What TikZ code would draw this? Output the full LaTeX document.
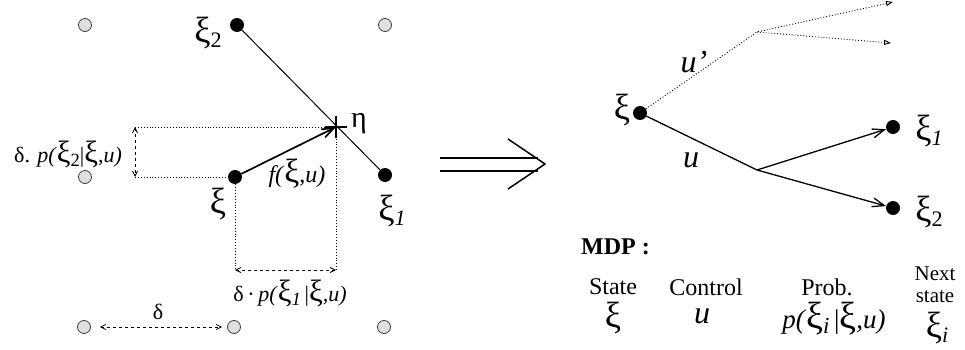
\documentclass[tikz,border=0pt]{standalone}
\usepackage{fontspec}
\setmainfont{Liberation Serif}
\usetikzlibrary{arrows.meta,positioning}
\tikzstyle{grid-pt} = [circle, draw=black!75, fill=black!12, line width=0.8pt,
    inner sep=0pt, minimum size=13pt]
\tikzstyle{state-pt} = [circle, fill=black, inner sep=0pt, minimum size=14pt]
\tikzstyle{lbl} = [font=\fontsize{24}{26}\selectfont, inner sep=1pt]
\tikzstyle{var-lbl} = [font=\fontsize{32}{34}\selectfont, inner sep=1pt]
\tikzstyle{xi-lbl} = [font=\fontsize{26}{28}\selectfont, inner sep=1pt]
\tikzstyle{small-lbl} = [font=\fontsize{22}{24}\selectfont, inner sep=1pt]
\tikzstyle{guide} = [dotted, line width=0.9pt]
\tikzstyle{measure} = [dashed, line width=0.8pt,
    {Straight Barb[length=5pt,width=5pt]}-{Straight Barb[length=5pt,width=5pt]}]
\tikzstyle{move} = [line width=1.3pt, -{Straight Barb[length=12pt,width=9pt]}]
\newcommand{\sxi}{\scalebox{1.4}{ξ}}
\newcommand{\sub}[1]{\raisebox{-0.4ex}{\scalebox{0.85}{#1}}}

\begin{document}
\begin{tikzpicture}[x=1pt,y=-1pt]
\useasboundingbox (0,0) rectangle (965,350);
% grid of the discretisation
\node [grid-pt] (g11) at (85,25) {};
\node [grid-pt] (g13) at (385,25) {};
\node [grid-pt] (g21) at (85,177) {};
\node [grid-pt] (g31) at (84,327) {};
\node [grid-pt] (g32) at (234,327) {};
\node [grid-pt] (g33) at (384,327) {};
\node [state-pt] (xi2) at (237,25) {};
\node [state-pt] (xi) at (235,177) {};
\node [state-pt] (xi1) at (385,175) {};
\coordinate (eta) at (336,127);
\node [xi-lbl] at (208,33) {\sxi\sub{2}};
\node [xi-lbl] at (218,204) {\sxi};
\node [xi-lbl] at (392,211) {\sxi\sub{\textit{1}}};
\node [xi-lbl, font=\fontsize{30}{32}\selectfont] at (359,124) {η};
\draw [line width=1pt] (xi2) -- (xi1);
\draw [line width=1.4pt] ([xshift=-11pt]eta) -- ([xshift=11pt]eta)
    ([yshift=-11pt]eta) -- ([yshift=11pt]eta);
\draw [move, line width=1.7pt] (xi) -- (eta);
\node [lbl] at (297,174) {\textit{f(}\sxi\textit{,u)}};
% projections
\coordinate (h-top) at (135,127);
\coordinate (h-bot) at (135,177);
\coordinate (v-left) at (235,270);
\coordinate (v-right) at (336,270);
\draw [guide] (h-top) -- (eta);
\draw [guide] (h-bot) -- (xi);
\draw [guide] (xi) -- (v-left);
\draw [guide] (eta) -- (v-right);
\draw [measure] (h-top) -- (h-bot);
\draw [measure] (v-left) -- (v-right);
\node [small-lbl] at (68,154) {δ. \textit{p(}\sxi\sub{2}|\sxi\textit{,u)}};
\node [small-lbl] at (290,293) {δ\,·\,\textit{p(}\sxi\sub{\textit{1}}\,|\sxi\textit{,u)}};
\draw [measure] ([xshift=9pt]g31.east) -- ([xshift=-5pt]g32.west);
\node [small-lbl] at (158,312) {δ};
% implication
\coordinate (imp-tip) at (545,164);
\draw [line width=1.5pt] (440,158) -- (538,158) (440,171) -- (538,171);
\draw [line width=1.5pt] (508,139) -- (imp-tip) -- (508,189);
% markov decision process
\node [state-pt] (r-xi) at (640,113) {};
\coordinate (r-split) at (757,170);
\node [state-pt] (r-xi1) at (893,127) {};
\node [state-pt] (r-xi2) at (893,208) {};
\coordinate (r-alt) at (757,32);
\coordinate (r-alt1) at (893,2);
\coordinate (r-alt2) at (891,43);
\node [xi-lbl] at (622,110) {\sxi};
\node [xi-lbl] at (929,131) {\sxi\sub{\textit{1}}};
\node [xi-lbl] at (929,212) {\sxi\sub{2}};
\draw [line width=1.3pt] (r-xi) -- (r-split);
\draw [move] (r-split) -- (r-xi1);
\draw [move] (r-split) -- (r-xi2);
\draw [guide, -{Triangle[open,length=7pt,width=5pt]}] (r-xi) -- (r-alt) -- (r-alt1);
\draw [guide, -{Triangle[open,length=7pt,width=5pt]}] (r-alt) -- (r-alt2);
\node [var-lbl] at (691,160) {\textit{u}};
\node [var-lbl] at (694,62) {\textit{u'}};
\node [lbl, anchor=west, font=\fontsize{24}{26}\selectfont\bfseries] (mdp) at (580,247) {MDP :};
\node [lbl] (t-state) at (613,287) {State};
\node [xi-lbl] (t-xi) at (613,318) {\sxi};
\node [lbl] (t-ctrl) at (706,287) {Control};
\node [var-lbl] (t-u) at (702,316) {\textit{u}};
\node [lbl] (t-prob) at (827,287) {Prob.};
\node [lbl, font=\fontsize{27}{29}\selectfont] (t-p) at (834,319) {\textit{p(}\sxi\sub{\textit{i}}\,|\sxi\textit{,u)}};
\node [lbl, inner sep=0pt, anchor=base, font=\fontsize{21}{23}\selectfont] (t-next) at (935,280) {Next};
\node [lbl, inner sep=0pt, anchor=base, font=\fontsize{21}{23}\selectfont] (t-next2) at (935,302) {state};
\node [xi-lbl] (t-xii) at (937,328) {\sxi\sub{\textit{i}}};
\end{tikzpicture}
\end{document}
